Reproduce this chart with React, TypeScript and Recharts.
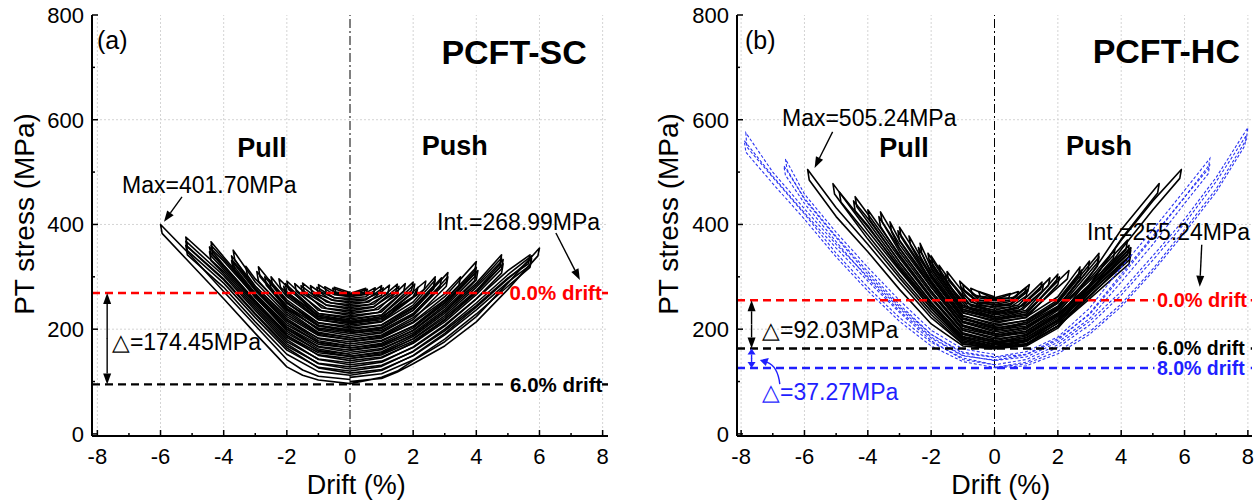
import React from "react";
import { LineChart, Line, XAxis, YAxis, ReferenceLine, ReferenceDot } from "recharts";

const FONT = '"Liberation Sans", Arial, Helvetica, sans-serif';

// axes
const driftTicks = [-8, -7, -6, -5, -4, -3, -2, -1, 0, 1, 2, 3, 4, 5, 6, 7, 8];
const stressTicks = [0, 100, 200, 300, 400, 500, 600, 700, 800];
const gridDrift = [-8, -6, -4, -2, 2, 4, 6, 8];
const gridStress = [200, 400, 600];

// reference stresses
const scInitial = 268.99;
const scAt6 = 94.54;
const hcInitial = 255.24;
const hcAt6 = 163.21;
const hcAt8 = 125.94;

// PCFT-SC loops, flat [drift, stress, drift, stress, ...]
const scSmallLoops: number[][] = [
  [0, 270, -0.5, 280, -0.45, 271, 0, 268, 0.5, 278, 0.45, 270, 0, 267],
  [0, 267, -0.55, 278, -0.5, 269, 0, 266, 0.55, 276, 0.5, 268, 0, 265],
  [0, 265, -0.4, 268, -0.8, 281, -0.75, 270, 0, 263, 0.4, 266, 0.8, 279, 0.75, 268, 0, 262],
  [0, 262, -0.5, 266, -1, 285, -0.95, 272, -0.5, 260, 0, 259, 0.5, 262, 1, 283, 0.95, 270, 0.5, 258, 0, 256],
  [0, 256, -0.5, 260, -1.05, 280, -1, 266, -0.5, 255, 0, 253, 0.5, 256, 1.05, 279, 1, 265, 0.5, 252, 0, 250],
  [0, 250, -0.6, 256, -1.25, 283, -1.2, 268, -0.6, 250, 0, 247, 0.6, 252, 1.25, 284, 1.2, 268, 0.6, 247, 0, 244],
  [0, 244, -0.75, 252, -1.5, 288, -1.45, 272, -0.75, 246, 0, 241, 0.75, 248, 1.5, 286, 1.45, 271, 0.75, 243, 0, 238],
  [0, 238, -0.75, 246, -1.55, 283, -1.5, 268, -0.75, 240, 0, 235, 0.75, 242, 1.55, 282, 1.5, 266, 0.75, 237, 0, 232],
  [0, 232, -0.9, 241, -1.75, 287, -1.7, 272, -0.9, 235, 0, 229, 0.9, 238, 1.75, 287, 1.7, 272, 0.9, 232, 0, 226],
  [0, 226, -1, 236, -2, 292, -1.95, 276, -1, 230, 0, 223, 1, 233, 2, 290, 1.95, 274, 1, 227, 0, 220],
  [0, 220, -1, 230, -2.05, 287, -2, 271, -1, 224, 0, 217, 1, 227, 2.05, 286, 2, 270, 1, 221, 0, 214],
  [0, 217, -1, 227, -2, 270, -2.1, 282, -2.05, 268, -1, 221, 0, 214, 1, 224, 2, 262, 2.15, 280, 2.1, 266, 1, 218, 0, 211],
  [0, 214, -1, 224, -2.25, 296, -2.2, 280, -1, 218, 0, 211, 1, 221, 2.4, 292, 2.35, 276, 1, 215, 0, 208],
];

const scMidLoops: number[][] = [
  [0, 208, -1, 218, -2, 262, -2.5, 300, -2.45, 283, -2, 250, -1, 212, 0, 205, 1, 214, 2, 252, 2.7, 300, 2.65, 283, 2, 242, 1, 208, 0, 202],
  [0, 202, -1, 212, -2, 256, -2.55, 294, -2.5, 277, -2, 244, -1, 206, 0, 199, 1, 208, 2, 246, 2.7, 294, 2.65, 277, 2, 236, 1, 202, 0, 196],
  [0, 198, -1, 208, -2, 250, -2.7, 300, -2.65, 284, -2, 238, -1, 202, 0, 195, 1, 204, 2, 240, 2.9, 298, 2.85, 281, 2, 230, 1, 198, 0, 192],
  [0, 196, -1, 206, -2, 252, -2.9, 319, -2.85, 300, -2, 240, -1, 200, 0, 192, 1, 201, 2, 236, 3.1, 308, 3.05, 290, 2, 226, 1, 195, 0, 188],
  [0, 188, -1, 198, -2, 244, -2.95, 310, -2.9, 292, -2, 232, -1, 192, 0, 184, 1, 193, 2, 228, 3.1, 300, 3.05, 282, 2, 218, 1, 187, 0, 180],
  [0, 184, -1, 194, -2, 236, -3, 296, -3.3, 320, -3.25, 303, -3, 282, -2, 224, -1, 188, 0, 180, 1, 189, 2, 222, 3, 268, 3.5, 300, 3.45, 284, 3, 256, 2, 212, 1, 183, 0, 176],
  [0, 180, -1, 190, -2, 228, -3, 290, -3.7, 351, -3.65, 333, -3, 275, -2, 216, -1, 183, 0, 176, 1, 185, 2, 214, 3, 262, 4, 329, 3.95, 311, 3, 250, 2, 205, 1, 179, 0, 172],
  [0, 172, -1, 182, -2, 220, -3, 282, -3.75, 340, -3.7, 322, -3, 268, -2, 208, -1, 175, 0, 168, 1, 177, 2, 206, 3, 254, 4, 318, 3.95, 300, 3, 242, 2, 197, 1, 171, 0, 164],
  [0, 168, -1, 178, -2, 216, -3, 278, -3.7, 330, -3.65, 313, -3, 264, -2, 204, -1, 171, 0, 164, 1, 173, 2, 202, 3, 250, 4, 310, 3.95, 293, 3, 238, 2, 193, 1, 167, 0, 160],
  [0, 164, -1, 174, -2, 212, -3, 274, -3.75, 331, -3.7, 314, -3, 260, -2, 200, -1, 167, 0, 160, 1, 169, 2, 198, 3, 246, 4.05, 312, 4, 294, 3, 234, 2, 189, 1, 163, 0, 156],
];

const scLargeLoops: number[][] = [
  [0, 156, -1, 166, -2, 204, -3, 268, -4, 338, -4.4, 367, -4.35, 348, -4, 322, -3, 254, -2, 192, -1, 159, 0, 152, 1, 161, 2, 190, 3, 234, 4, 288, 4.8, 342, 4.75, 324, 4, 274, 3, 222, 2, 181, 1, 155, 0, 148],
  [0, 152, -1, 162, -2, 200, -3, 265, -4, 334, -4.4, 360, -4.35, 342, -4, 318, -3, 251, -2, 188, -1, 155, 0, 148, 1, 157, 2, 186, 3, 230, 4, 284, 4.8, 336, 4.75, 318, 4, 270, 3, 218, 2, 177, 1, 151, 0, 144],
  [0, 148, -1, 158, -2, 196, -3, 262, -4, 330, -4.45, 357, -4.4, 340, -4, 314, -3, 248, -2, 184, -1, 151, 0, 144, 1, 153, 2, 182, 3, 226, 4, 280, 4.85, 333, 4.8, 315, 4, 266, 3, 214, 2, 173, 1, 147, 0, 140],
  [0, 140, -1, 150, -2, 188, -3, 254, -4, 322, -4.45, 348, -4.4, 331, -4, 306, -3, 240, -2, 176, -1, 143, 0, 136, 1, 145, 2, 174, 3, 218, 4, 272, 4.85, 325, 4.8, 307, 4, 258, 3, 206, 2, 165, 1, 139, 0, 132],
  [0, 132, -1, 142, -2, 180, -3, 244, -4, 310, -5.2, 376, -5.15, 358, -4, 296, -3, 230, -2, 168, -1, 135, 0, 128, 1, 137, 2, 166, 3, 208, 4, 258, 5, 312, 5.7, 342, 5.65, 325, 5, 298, 4, 245, 3, 197, 2, 157, 1, 131, 0, 124],
  [0, 124, -1, 134, -2, 172, -3, 236, -4, 302, -5.2, 368, -5.15, 350, -4, 288, -3, 222, -2, 160, -1, 127, 0, 120, 1, 129, 2, 158, 3, 200, 4, 250, 5, 304, 5.75, 340, 5.7, 322, 5, 290, 4, 237, 3, 189, 2, 149, 1, 123, 0, 116],
  [0, 116, -1, 126, -2, 164, -3, 228, -4, 294, -5.2, 360, -5.15, 342, -4, 280, -3, 214, -2, 152, -1, 119, 0, 112, 1, 121, 2, 150, 3, 192, 4, 242, 5, 296, 5.75, 335, 5.7, 318, 5, 282, 4, 229, 3, 181, 2, 141, 1, 115, 0, 108],
  [0, 104, -1, 110, -1.5, 122, -2, 142, -3, 207, -4, 272, -5, 338, -6, 400, -5.95, 383, -5, 322, -4, 258, -3, 192, -2, 128, -1.5, 112, -1, 103, 0, 96, 1, 108, 1.5, 120, 2, 140, 3, 176, 4, 224, 5, 288, 6, 355, 5.95, 340, 5, 276, 4, 214, 3, 168, 2, 134, 1.5, 118, 1, 106, 0, 100],
];

// PCFT-HC loops
const hcSmallLoops: number[][] = [
  [0, 262, -0.5, 272, -0.45, 263, 0, 260, 0.5, 268, 0.45, 260, 0, 258],
  [0, 258, -0.75, 278, -0.7, 266, 0, 256, 0.75, 272, 0.7, 262, 0, 254],
  [0, 254, -0.5, 260, -1, 285, -0.95, 272, -0.5, 252, 0, 250, 0.5, 256, 1, 280, 0.95, 268, 0.5, 248, 0, 246],
  [0, 250, -0.5, 256, -1.1, 292, -1.05, 278, -0.5, 249, 0, 247, 0.5, 253, 1.1, 285, 1.05, 272, 0.5, 246, 0, 243],
  [0, 246, -0.5, 252, -1.05, 280, -1, 266, -0.5, 245, 0, 243, 0.5, 249, 1.05, 276, 1, 263, 0.5, 242, 0, 240],
  [0, 240, -0.75, 252, -1.5, 310, -1.45, 293, -0.75, 245, 0, 236, 0.75, 246, 1.5, 290, 1.45, 276, 0.75, 240, 0, 233],
  [0, 236, -0.9, 250, -1.75, 322, -1.7, 305, -0.9, 243, 0, 232, 0.9, 245, 1.75, 298, 1.7, 283, 0.9, 238, 0, 229],
  [0, 233, -0.75, 245, -1.55, 304, -1.5, 287, -0.75, 238, 0, 230, 0.75, 240, 1.55, 286, 1.5, 272, 0.75, 234, 0, 227],
  [0, 227, -1, 245, -2, 340, -1.95, 322, -1, 238, 0, 223, 1, 236, 2, 305, 1.95, 290, 1, 229, 0, 220],
  [0, 224, -1, 242, -2.1, 345, -2.05, 327, -1, 235, 0, 220, 1, 233, 2.35, 312, 2.3, 296, 1, 226, 0, 217],
  [0, 220, -1, 238, -2.05, 333, -2, 315, -1, 231, 0, 217, 1, 229, 2.05, 300, 2, 285, 1, 222, 0, 214],
];

const hcMidLoops: number[][] = [
  [0, 214, -1, 232, -2, 318, -2.35, 364, -2.3, 346, -2, 305, -1, 225, 0, 211, 1, 223, 2, 262, 2.7, 319, 2.65, 302, 2, 250, 1, 216, 0, 208],
  [0, 208, -1, 226, -2, 310, -2.4, 356, -2.35, 338, -2, 298, -1, 219, 0, 205, 1, 217, 2, 256, 2.75, 313, 2.7, 296, 2, 244, 1, 210, 0, 202],
  [0, 205, -1, 222, -2, 302, -2.7, 378, -2.65, 360, -2, 290, -1, 215, 0, 201, 1, 213, 2, 253, 3, 330, 2.95, 313, 2, 241, 1, 206, 0, 198],
  [0, 202, -1, 220, -2, 300, -3, 395, -2.95, 376, -2, 288, -1, 213, 0, 198, 1, 210, 2, 250, 3.3, 345, 3.25, 327, 2, 238, 1, 203, 0, 195],
  [0, 195, -1, 213, -2, 293, -3.05, 388, -3, 369, -2, 281, -1, 206, 0, 191, 1, 203, 2, 243, 3.3, 338, 3.25, 320, 2, 231, 1, 196, 0, 188],
  [0, 192, -1, 208, -2, 286, -3, 370, -3.3, 405, -3.25, 386, -3, 355, -2, 273, -1, 201, 0, 188, 1, 200, 2, 240, 3, 296, 3.8, 352, 3.75, 335, 3, 284, 2, 228, 1, 193, 0, 185],
  [0, 188, -1, 205, -2, 280, -3, 362, -3.6, 424, -3.55, 405, -3, 348, -2, 268, -1, 198, 0, 184, 1, 196, 2, 236, 3, 292, 4.2, 370, 4.15, 352, 3, 280, 2, 225, 1, 189, 0, 181],
  [0, 181, -1, 198, -2, 273, -3, 354, -3.65, 415, -3.6, 396, -3, 340, -2, 261, -1, 191, 0, 178, 1, 190, 2, 229, 3, 285, 4.25, 360, 4.2, 342, 3, 273, 2, 218, 1, 183, 0, 175],
];

const hcLargeLoops: number[][] = [
  [0, 178, -1, 193, -2, 262, -3, 342, -4, 428, -3.95, 410, -3, 328, -2, 250, -1, 186, 0, 175, 1, 187, 2, 226, 3, 281, 4.3, 356, 4.25, 338, 3, 269, 2, 215, 1, 180, 0, 173],
  [0, 175, -1, 190, -2, 258, -3, 336, -4, 420, -4.4, 453, -4.35, 434, -4, 405, -3, 322, -2, 246, -1, 183, 0, 172, 1, 184, 2, 222, 3, 276, 4.3, 350, 4.25, 332, 3, 264, 2, 211, 1, 177, 0, 170],
  [0, 170, -1, 185, -2, 252, -3, 329, -4, 412, -4.45, 445, -4.4, 426, -4, 398, -3, 315, -2, 240, -1, 178, 0, 167, 1, 179, 2, 216, 3, 270, 4.3, 342, 4.25, 325, 3, 258, 2, 206, 1, 172, 0, 166],
  [0, 168, -1, 181, -2, 245, -3, 318, -4, 395, -4.9, 462, -4.85, 443, -4, 380, -3, 304, -2, 234, -1, 175, 0, 166, 1, 178, 2, 218, 3, 275, 4.3, 355, 4.25, 337, 3, 262, 2, 206, 1, 171, 0, 165],
  [0, 167, -1, 178, -2, 240, -3, 312, -4, 388, -5.1, 478, -5.05, 458, -4, 372, -3, 298, -2, 228, -1, 172, 0, 165, 1, 176, 2, 218, 3, 300, 4, 390, 5.2, 478, 5.15, 460, 4, 372, 3, 284, 2, 206, 1, 170, 0, 164],
  [0, 164, -1, 172, -2, 222, -3, 290, -4, 362, -5, 432, -5.9, 505, -5.85, 485, -5, 415, -4, 348, -3, 276, -2, 210, -1, 168, 0, 162, 1, 172, 2, 212, 3, 285, 4, 370, 5, 445, 5.9, 505, 5.85, 488, 5, 428, 4, 352, 3, 270, 2, 202, 1, 168, 0, 163],
];

const hcBlueLoops: number[][] = [
  [0, 152, -1, 162, -2, 198, -3, 255, -4, 318, -5, 385, -6, 458, -6.6, 525, -6.55, 505, -6, 448, -5, 375, -4, 305, -3, 243, -2, 190, -1, 156, 0, 147, 1, 157, 2, 185, 3, 240, 4, 318, 5, 390, 6, 465, 6.8, 526, 6.75, 506, 6, 452, 5, 375, 4, 300, 3, 228, 2, 182, 1, 152, 0, 146],
  [0, 146, -1, 154, -2, 190, -3, 247, -4, 310, -5, 377, -6, 450, -6.65, 512, -6.6, 494, -6, 440, -5, 367, -4, 297, -3, 235, -2, 183, -1, 149, 0, 141, 1, 151, 2, 179, 3, 230, 4, 305, 5, 378, 6, 452, 6.8, 515, 6.75, 497, 6, 440, 5, 362, 4, 290, 3, 220, 2, 175, 1, 147, 0, 140],
  [0, 140, -1, 150, -2, 185, -3, 240, -4, 300, -5, 362, -6, 430, -7, 500, -7.85, 575, -7.82, 548, -7, 490, -6, 420, -5, 345, -4, 280, -3, 222, -2, 175, -1, 145, 0, 132, 1, 142, 2, 170, 3, 215, 4, 272, 5, 340, 6, 410, 7, 490, 8, 585, 7.95, 562, 7, 468, 6, 390, 5, 315, 4, 248, 3, 195, 2, 158, 1, 134, 0, 127],
  [0, 132, -1, 142, -2, 178, -3, 232, -4, 292, -5, 355, -6, 422, -7, 492, -7.9, 560, -7.85, 538, -7, 478, -6, 410, -5, 338, -4, 273, -3, 215, -2, 168, -1, 138, 0, 127, 1, 137, 2, 165, 3, 208, 4, 265, 5, 332, 6, 402, 7, 482, 7.95, 570, 7.9, 550, 7, 462, 6, 384, 5, 310, 4, 243, 3, 190, 2, 153, 1, 130, 0, 126],
];

const toPts = (flat: number[]) => {
  const pts: { x: number; y: number }[] = [];
  for (let i = 0; i < flat.length; i += 2) pts.push({ x: flat[i], y: flat[i + 1] });
  return pts;
};

const XTick = (props: any) => {
  const { x, y, payload } = props;
  const v = payload.value;
  const major = v % 2 === 0;
  return (
    <g>
      <line x1={x} x2={x} y1={y} y2={y - (major ? 6 : 3)} stroke="#000" strokeWidth={1.5} />
      {major && (
        <text x={x} y={y + 28} textAnchor="middle" fontFamily={FONT} fontSize={22} fill="#000">
          {v}
        </text>
      )}
    </g>
  );
};

const YTick = (props: any) => {
  const { x, y, payload } = props;
  const v = payload.value;
  const major = v % 200 === 0;
  return (
    <g>
      <line x1={x} x2={x + (major ? 6 : 3)} y1={y} y2={y} stroke="#000" strokeWidth={1.5} />
      {major && (
        <text x={x - 8} y={y} dy="0.36em" textAnchor="end" fontFamily={FONT} fontSize={22} fill="#000">
          {v}
        </text>
      )}
    </g>
  );
};

type TextOpts = {
  anchor?: "start" | "middle" | "end";
  size?: number;
  bold?: boolean;
  color?: string;
  dx?: number;
  dy?: number;
  rotate?: boolean;
};

function note(key: string, x: number, y: number, text: string, o: TextOpts = {}) {
  return (
    <ReferenceDot
      key={key}
      x={x}
      y={y}
      r={1}
      ifOverflow="visible"
      shape={(p: any) => {
        const tx = p.cx + (o.dx ?? 0);
        const ty = p.cy + (o.dy ?? 0);
        return (
          <text
            x={tx}
            y={ty}
            dy="0.35em"
            textAnchor={o.anchor ?? "start"}
            fontFamily={FONT}
            fontSize={o.size ?? 23}
            fontWeight={o.bold ? 700 : 400}
            fill={o.color ?? "#000"}
            transform={o.rotate ? `rotate(-90 ${tx} ${ty})` : undefined}
          >
            {text}
          </text>
        );
      }}
    />
  );
}

// arrow with its tip at (x, y); the tail sits dx, dy pixels away
function arrow(key: string, x: number, y: number, dx: number, dy: number, color = "#000", head = 11) {
  return (
    <ReferenceDot
      key={key}
      x={x}
      y={y}
      r={1}
      ifOverflow="visible"
      shape={(p: any) => {
        const { cx, cy } = p;
        const len = Math.hypot(dx, dy);
        const ux = -dx / len;
        const uy = -dy / len;
        const hx = cx - ux * head;
        const hy = cy - uy * head;
        const px = -uy * 4;
        const py = ux * 4;
        return (
          <g>
            <line x1={cx + dx} y1={cy + dy} x2={hx} y2={hy} stroke={color} strokeWidth={1.4} />
            <polygon points={`${cx},${cy} ${hx + px},${hy + py} ${hx - px},${hy - py}`} fill={color} />
          </g>
        );
      }}
    />
  );
}

function curvedArrow(key: string, x: number, y: number, color: string) {
  return (
    <ReferenceDot
      key={key}
      x={x}
      y={y}
      r={1}
      ifOverflow="visible"
      shape={(p: any) => {
        const { cx, cy } = p;
        return (
          <g>
            <path d={`M ${cx + 20} ${cy + 24} Q ${cx + 18} ${cy + 6} ${cx + 7} ${cy + 2}`} stroke={color} strokeWidth={1.4} fill="none" />
            <polygon points={`${cx},${cy} ${cx + 9} ${cy - 2} ${cx + 6} ${cy + 6}`} fill={color} />
          </g>
        );
      }}
    />
  );
}

function driftLine(key: string, y: number, xMin: number, xTextStart: number, xTail: number, xMax: number, color: string, width: number) {
  return [
    <ReferenceLine
      key={key + "a"}
      segment={[{ x: xMin, y }, { x: xTextStart, y }]}
      stroke={color}
      strokeWidth={width}
      strokeDasharray="8 5"
      ifOverflow="visible"
    />,
    <ReferenceLine
      key={key + "b"}
      segment={[{ x: xTail, y }, { x: xMax, y }]}
      stroke={color}
      strokeWidth={width}
      ifOverflow="visible"
    />,
  ];
}

type PanelProps = {
  xMax: number;
  left: number;
  right: number;
  loops: number[][];
  blueLoops?: number[][];
  notes: React.ReactNode[];
};

function Panel({ xMax, left, right, loops, blueLoops = [], notes }: PanelProps) {
  const dom: [number, number] = [-xMax, xMax];
  return (
    <LineChart width={630} height={504} margin={{ top: 15, right, bottom: 0, left }}>
      <XAxis
        dataKey="x"
        type="number"
        domain={dom}
        allowDataOverflow
        ticks={driftTicks}
        interval={0}
        height={68}
        tickSize={0}
        tickMargin={0}
        tickLine={false}
        tick={<XTick />}
        axisLine={{ stroke: "#000", strokeWidth: 2 }}
      />
      <XAxis
        xAxisId="top"
        orientation="top"
        dataKey="x"
        type="number"
        domain={dom}
        allowDataOverflow
        height={0}
        tick={false}
        tickLine={false}
        axisLine={{ stroke: "#000", strokeWidth: 2 }}
      />
      <YAxis
        type="number"
        domain={[-4, 800]}
        allowDataOverflow
        ticks={stressTicks}
        interval={0}
        width={50}
        tickSize={0}
        tickMargin={0}
        tickLine={false}
        tick={<YTick />}
        axisLine={{ stroke: "#000", strokeWidth: 2 }}
      />
      <YAxis
        yAxisId="right"
        orientation="right"
        type="number"
        domain={[-4, 800]}
        allowDataOverflow
        width={0}
        tick={false}
        tickLine={false}
        axisLine={{ stroke: "#000", strokeWidth: 2 }}
      />
      {gridDrift.map((v) => (
        <ReferenceLine key={`gx${v}`} x={v} stroke="#d4d4d4" strokeWidth={1} strokeDasharray="2 2" />
      ))}
      {gridStress.map((v) => (
        <ReferenceLine key={`gy${v}`} y={v} stroke="#d4d4d4" strokeWidth={1} strokeDasharray="2 2" />
      ))}
      <ReferenceLine x={0} stroke="#000" strokeWidth={1} strokeDasharray="9 3 2 3" />
      {loops.map((l, i) => (
        <Line
          key={`l${i}`}
          data={toPts(l)}
          dataKey="y"
          type="linear"
          stroke="#000"
          strokeWidth={1.6}
          strokeLinejoin="round"
          dot={false}
          activeDot={false}
          isAnimationActive={false}
        />
      ))}
      {blueLoops.map((l, i) => (
        <Line
          key={`b${i}`}
          data={toPts(l)}
          dataKey="y"
          type="linear"
          stroke="#2b34f2"
          strokeWidth={1.1}
          strokeDasharray="3 2"
          dot={false}
          activeDot={false}
          isAnimationActive={false}
        />
      ))}
      {notes}
    </LineChart>
  );
}

export default function App() {
  const scNotes = [
    ...driftLine("sc0", scInitial, -8.17, 4.95, 7.98, 8.17, "#ff0000", 2.6),
    ...driftLine("sc6", scAt6, -8.17, 4.98, 7.98, 8.17, "#000", 2.4),
    note("ytitle", -8, 420, "PT stress (MPa)", { anchor: "middle", size: 28, dx: -73, rotate: true }),
    note("xtitle", 0.2, 0, "Drift (%)", { anchor: "middle", size: 27, dy: 51 }),
    note("tag", -8.01, 752, "(a)", { size: 25 }),
    note("name", 7.5, 730, "PCFT-SC", { anchor: "end", size: 34, bold: true }),
    note("pull", -2.79, 546, "Pull", { anchor: "middle", size: 27, bold: true }),
    note("push", 3.32, 550, "Push", { anchor: "middle", size: 27, bold: true }),
    note("max", -7.22, 476, "Max=401.70MPa"),
    arrow("maxArr", -5.89, 405, 18, -25),
    note("int", 7.92, 405, "Int.=268.99MPa", { anchor: "end" }),
    arrow("intArr", 7.28, 294, -24, -47),
    note("d0", 5.05, scInitial, "0.0% drift", { size: 20.5, bold: true, color: "#ff0000" }),
    note("d6", 5.07, scAt6, "6.0% drift", { size: 20.5, bold: true }),
    arrow("dUp", -7.69, scInitial, 0, 46),
    arrow("dDown", -7.69, scAt6, 0, -46),
    note("delta", -7.54, 176, "△=174.45MPa"),
  ];

  const hcNotes = [
    ...driftLine("hc0", hcInitial, -8.13, 5.05, 8.09, 8.13, "#ff0000", 2.6),
    ...driftLine("hc6", hcAt6, -8.13, 5.05, 8.09, 8.13, "#000", 2.4),
    ...driftLine("hc8", hcAt8, -8.13, 5.05, 8.09, 8.13, "#1f1fff", 2.6),
    note("ytitle", -8, 420, "PT stress (MPa)", { anchor: "middle", size: 28, dx: -73, rotate: true }),
    note("xtitle", 0.2, 0, "Drift (%)", { anchor: "middle", size: 27, dy: 51 }),
    note("tag", -7.88, 751, "(b)", { size: 25 }),
    note("name", 7.75, 731, "PCFT-HC", { anchor: "end", size: 34, bold: true }),
    note("pull", -2.86, 546, "Pull", { anchor: "middle", size: 27, bold: true }),
    note("push", 3.3, 550, "Push", { anchor: "middle", size: 27, bold: true }),
    note("max", -6.71, 604, "Max=505.24MPa"),
    arrow("maxArr", -5.68, 508, 18, -36),
    note("int", 8.07, 386, "Int.=255.24MPa", { anchor: "end" }),
    arrow("intArr", 6.48, 281, 2, -42),
    note("d0", 5.13, hcInitial, "0.0% drift", { size: 20, bold: true, color: "#ff0000" }),
    note("d6", 5.13, hcAt6 + 1, "6.0% drift", { size: 19.5, bold: true }),
    note("d8", 5.13, hcAt8 - 1, "8.0% drift", { size: 19.5, bold: true, color: "#1f1fff" }),
    arrow("dUp", -7.67, hcInitial, 0, 24),
    arrow("dDown", -7.67, hcAt6, 0, -24),
    note("delta", -7.34, 199, "△=92.03MPa"),
    arrow("bUp", -7.67, hcAt6, 0, 10, "#1f1fff", 6),
    arrow("bDown", -7.67, hcAt8, 0, -10, "#1f1fff", 6),
    curvedArrow("bCurve", -7.41, 141, "#1f1fff"),
    note("deltaB", -7.34, 80, "△=37.27MPa", { color: "#1f1fff" }),
  ];

  return (
    <div
      style={{
        position: "absolute",
        left: 0,
        top: 0,
        width: 1260,
        height: 504,
        background: "#fff",
        display: "flex",
      }}
    >
      <Panel
        xMax={8.17}
        left={42}
        right={22}
        loops={[...scSmallLoops, ...scMidLoops, ...scLargeLoops]}
        notes={scNotes}
      />
      <Panel
        xMax={8.13}
        left={57}
        right={8}
        loops={[...hcSmallLoops, ...hcMidLoops, ...hcLargeLoops]}
        blueLoops={hcBlueLoops}
        notes={hcNotes}
      />
    </div>
  );
}
